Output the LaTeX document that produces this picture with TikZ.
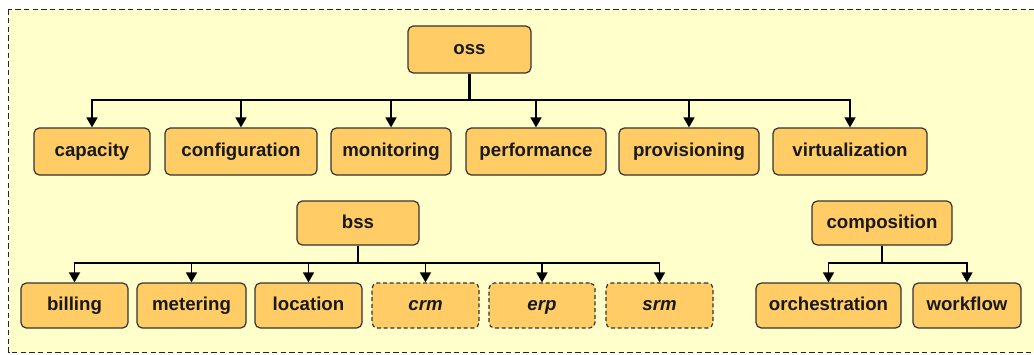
\documentclass[tikz,border=0pt]{standalone}
\usepackage{fontspec}
\setmainfont{Liberation Sans}
\usetikzlibrary{arrows.meta}
\definecolor{bgyellow}{HTML}{FFFFCC}
\definecolor{boxfill}{HTML}{FFCC66}
\definecolor{boxline}{HTML}{333333}
\tikzset{
  box/.style={draw=boxline, fill=boxfill, line width=0.9pt, rounded corners=4pt,
    inner sep=0pt, text height=10pt, text depth=2.5pt,
    font=\fontsize{14}{16}\selectfont\bfseries, text=black!90},
  optbox/.style={box, dashed, dash pattern=on 3pt off 2pt, font=\fontsize{14}{16}\selectfont\bfseries\itshape},
  arr/.style={draw=black, line width=1.2pt, -{Triangle[length=7.5pt,width=8.25pt]}},
  stem/.style={draw=black, line width=2pt},
}
\begin{document}
\begin{tikzpicture}[x=0.75pt,y=-0.75pt]
\useasboundingbox (0,0) rectangle (1034,354);
\fill[white] (0,0) rectangle (1034,354);
\draw[fill=bgyellow, draw=black!85, line width=0.9pt, dash pattern=on 4pt off 2.5pt] (8.5,9.3) rectangle (1045,352.5);

% oss tree
\node[box, minimum width=123*0.75pt, minimum height=47*0.75pt] (oss) at (469.5,49.5) {oss};
\node[box, minimum width=116*0.75pt, minimum height=47*0.75pt] (capacity) at (92,151.5) {capacity};
\node[box, minimum width=152*0.75pt, minimum height=47*0.75pt] (configuration) at (241,151.5) {configuration};
\node[box, minimum width=120*0.75pt, minimum height=47*0.75pt] (monitoring) at (391,151.5) {monitoring};
\node[box, minimum width=140*0.75pt, minimum height=47*0.75pt] (performance) at (536,151.5) {performance};
\node[box, minimum width=140*0.75pt, minimum height=47*0.75pt] (provisioning) at (689,151.5) {provisioning};
\node[box, minimum width=154*0.75pt, minimum height=47*0.75pt] (virtualization) at (850,151.5) {virtualization};

\coordinate (ossbus) at (oss.south |- 0,100);
\draw[stem] (oss.south) -- (ossbus);
\foreach \c in {capacity,configuration,monitoring,performance,provisioning,virtualization}
  \draw[arr] (ossbus) -| (\c.north);

% bss tree
\node[box, minimum width=122*0.75pt, minimum height=44*0.75pt] (bss) at (358,223) {bss};
\node[box, minimum width=107*0.75pt, minimum height=45*0.75pt] (billing) at (74.5,305.5) {billing};
\node[box, minimum width=109*0.75pt, minimum height=45*0.75pt] (metering) at (191.5,305.5) {metering};
\node[box, minimum width=107*0.75pt, minimum height=45*0.75pt] (location) at (308.5,305.5) {location};
\node[optbox, minimum width=107*0.75pt, minimum height=45*0.75pt] (crm) at (425.5,305.5) {crm};
\node[optbox, minimum width=106*0.75pt, minimum height=45*0.75pt] (erp) at (542,305.5) {erp};
\node[optbox, minimum width=107*0.75pt, minimum height=45*0.75pt] (srm) at (659.5,305.5) {srm};

\coordinate (bssbus) at (bss.south |- 0,263);
\draw[stem] (bss.south) -- (bssbus);
\foreach \c in {billing,metering,location,crm,erp,srm}
  \draw[arr] (bssbus) -| (\c.north);

% composition tree
\node[box, minimum width=140*0.75pt, minimum height=44*0.75pt] (composition) at (882,223) {composition};
\node[box, minimum width=145*0.75pt, minimum height=45*0.75pt] (orchestration) at (828.5,305.5) {orchestration};
\node[box, minimum width=108*0.75pt, minimum height=45*0.75pt] (workflow) at (967,305.5) {workflow};

\coordinate (compbus) at (composition.south |- 0,263);
\draw[stem] (composition.south) -- (compbus);
\foreach \c in {orchestration,workflow}
  \draw[arr] (compbus) -| (\c.north);
\end{tikzpicture}
\end{document}
